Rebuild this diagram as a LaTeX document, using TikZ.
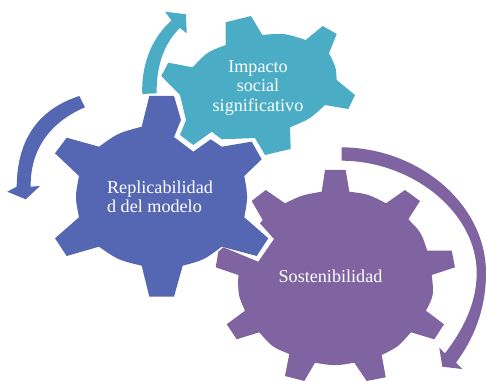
\documentclass[tikz,border=0pt]{standalone}
\usepackage{fontspec}
\setmainfont{Liberation Serif}
\definecolor{gearteal}{HTML}{4BACC6}
\definecolor{gearblue}{HTML}{5566B3}
\definecolor{gearpurple}{HTML}{8064A2}
\tikzset{
	gearlabel/.style={text=white, font=\fontsize{13.6pt}{14.4pt}\selectfont, inner sep=0pt, align=center}
}
\begin{document}
\begin{tikzpicture}[x=0.75pt, y=-0.75pt]
	\useasboundingbox (0,0) rectangle (486,381);

	% Purple gear
	\fill[gearpurple] (325,170) -- (345.7,170) -- (349.3,191.7)
		.. controls (368,194) .. (386,203.3) -- (405,190) -- (420,201) -- (408.3,219.3)
		.. controls (421,232) .. (427.3,250.7) -- (451.7,250.7) -- (455,267.3) -- (431.7,275)
		.. controls (434,295) .. (426,310.7) -- (444,324.3) -- (434.3,339.3) -- (411,332.3)
		.. controls (398,347) .. (381.7,355) -- (385.7,377.3) -- (366.7,381) -- (354.3,362.7)
		.. controls (335,366) .. (315,362.7) -- (304.3,381) -- (285,376) -- (289.3,354)
		.. controls (272,347) .. (259.3,332.3) -- (236.7,339.3) -- (226.7,324.3) -- (245,310.7)
		.. controls (238,295) .. (238.3,275) -- (215.7,267.3) -- (218.3,251.7) -- (223.3,247.3)
		-- (258.3,261.7) -- (274,239) -- (260,223.3) -- (262.7,220) -- (251.7,201) -- (265.7,190) -- (285,203.3)
		.. controls (302,195) .. (321.7,191.7) -- cycle;

	% Blue gear
	\fill[gearblue] (149.3,96) -- (174,96) -- (181,120) -- (174,137) -- (193.3,151.7) -- (210.7,139.3)
		-- (221.7,146.7) -- (251.7,141.7) -- (261.7,159.3) -- (244.3,176)
		.. controls (248,197) .. (244.3,217.3) -- (268.3,238.3) -- (256.7,256) -- (221.7,246.7)
		.. controls (204,260) .. (182.7,265.7) -- (174,296.7) -- (149.3,296.7) -- (141.7,265.7)
		.. controls (118,260) .. (99,246.7) -- (66.7,256) -- (55,238.3) -- (79,217.3)
		.. controls (75,197) .. (79,176) -- (55,153.3) -- (66.7,137.7) -- (99,146.7)
		.. controls (118,133) .. (141.7,126.7) -- cycle;

	% Teal gear
	\fill[gearteal] (225.7,22.3) -- (251,16) -- (262.3,35)
		.. controls (284,33) .. (305.7,40) -- (322.7,26) -- (336.7,34) -- (329,53.3)
		.. controls (336,67) .. (336.7,80) -- (355,95) -- (348.3,109) -- (325,105)
		.. controls (310,119) .. (290,127.3) -- (290.7,149) -- (265,155) -- (255,138)
		-- (221.7,139.3) -- (211.7,131.7) -- (193.3,145) -- (180,135) -- (186,120) -- (180,95)
		-- (161.3,76) -- (168.3,62.7) -- (192.7,67.3)
		.. controls (207,52) .. (225.7,45) -- cycle;

	% Curved arrows
	\fill[gearteal] (142.3,94) .. controls (141,60) and (155,35) .. (171.5,20.5)
		-- (165,11.7) -- (186,14.3) -- (186.7,33.3) -- (180,28)
		.. controls (165,42) and (156,65) .. (156.7,93.3) -- cycle;
	\fill[gearblue] (79.3,96) .. controls (30,112) and (17,150) .. (16.7,186.7)
		-- (7.3,191.7) -- (25.7,199.3) -- (40,186) -- (30.7,186.7)
		.. controls (30,150) and (50,122) .. (85,107.3) -- cycle;
	\fill[gearpurple] (341.7,147.3) .. controls (420,148) and (486,205) .. (486,273)
		.. controls (486,310) and (473,340) .. (456,362.7)
		-- (462.3,369) -- (442.3,366.7) -- (439.3,347.7) -- (445,353.3)
		.. controls (463,330) and (476.7,303) .. (476.7,273)
		.. controls (476.7,212) and (412,161) .. (341.7,160.7) -- cycle;

	% Labels
	\node[gearlabel] (impacto) at (258,88) {Impacto\\social\\significativo};
	\node[gearlabel, align=left] (replicabilidad) at (160,197) {Replicabilidad\\d del modelo};
	\node[gearlabel] (sostenibilidad) at (330.5,276) {Sostenibilidad};
\end{tikzpicture}
\end{document}
